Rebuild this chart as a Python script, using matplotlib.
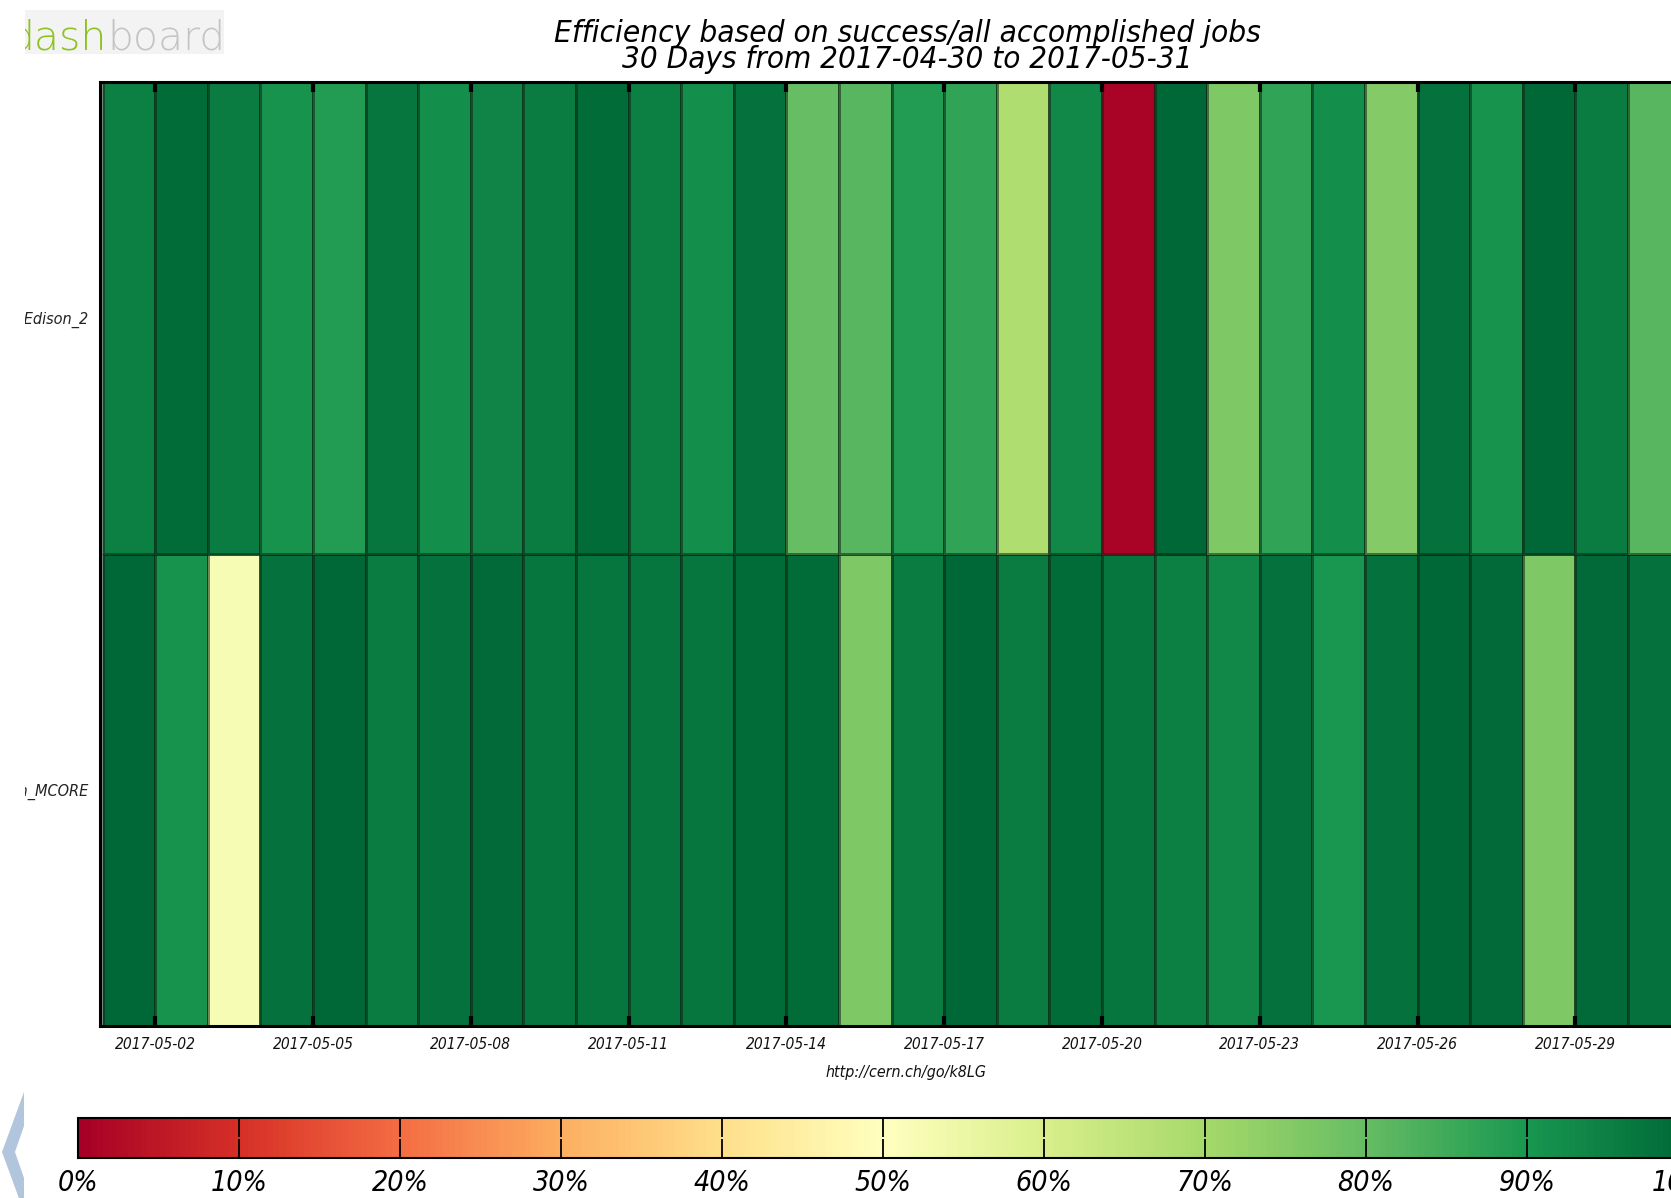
import datetime as dt
import numpy as np
import matplotlib
matplotlib.use("Agg")
import matplotlib.pyplot as plt
import matplotlib.dates as mdates
from matplotlib.patches import Polygon, Rectangle
from matplotlib.text import Annotation

# ---------------- data ----------------
days = ['2017-05-%02d' % d for d in range(1, 31)]
sites = ['NERSC_Edison_MCORE', 'NERSC_Edison_2']          # bottom -> top
eff_edison2 = [95, 99, 96, 91, 89, 97, 92, 94, 96, 99,
               95, 92, 98, 80, 82, 89, 87, 68, 93, 1,
               100, 76, 87, 92, 75, 98, 91, 100, 96, 82]
eff_mcore = [100, 91, 52, 98, 100, 96, 98, 99.5, 97, 97,
             97, 97, 99, 99, 76, 96, 100, 96, 99, 97,
             95, 93, 98, 90, 98, 100, 99.5, 76, 99.5, 98]
xtick_labels = ['2017-05-02', '2017-05-05', '2017-05-08', '2017-05-11',
                '2017-05-14', '2017-05-17', '2017-05-20', '2017-05-23',
                '2017-05-26', '2017-05-29']
cbar_ticks = [0, 10, 20, 30, 40, 50, 60, 70, 80, 90, 100]
title_1 = 'Efficiency based on success/all accomplished jobs'
title_2 = '30 Days from 2017-04-30 to 2017-05-31'
url = 'http://cern.ch/go/k8LG'

# ---------------- layout helpers ----------------
W, H = 1671, 1198
plt.rcParams['font.family'] = ['DejaVu Sans']
plt.rcParams['font.stretch'] = 'condensed'
fig = plt.figure(figsize=(W / 100, H / 100), dpi=100)


def px(l, t, r, b):
    return [l / W, 1 - b / H, (r - l) / W, (b - t) / H]


def dnum(s):
    return mdates.date2num(dt.datetime.strptime(s, '%Y-%m-%d'))


# ---------------- main heatmap ----------------
ax = fig.add_axes(px(100, 82, 1714, 1026))
xs = [dnum(d) for d in days]
edges = xs + [xs[-1] + 1]
Z = np.array([eff_mcore, eff_edison2])
mesh = ax.pcolormesh(edges, [0, 1, 2], Z, cmap='RdYlGn', vmin=0, vmax=100,
                     edgecolors=(0.05, 0.15, 0.08, 0.55), linewidth=0.75)
ax.set_xlim(xs[0] - 0.05, xs[0] - 0.05 + 1614 / 52.6)
ax.set_ylim(0, 2)
ax.set_yticks([0.5, 1.5])
ax.set_yticklabels(sites, fontsize=11.6, style='italic', color='#222222')
ax.tick_params(axis='y', length=0, pad=8)
ax.set_xticks([dnum(t) for t in xtick_labels])
ax.set_xticklabels(xtick_labels, fontsize=11.2, style='italic', color='#111111')
ax.tick_params(axis='x', direction='in', length=7, width=3, top=True,
               bottom=True, pad=8)
for sp in ax.spines.values():
    sp.set_linewidth(2.2)

# ---------------- titles ----------------
fig.text(907 / W, 1 - 34 / H, title_1, ha='center', va='center',
         fontsize=22.6, style='italic')
fig.text(907 / W, 1 - 59 / H, title_2, ha='center', va='center',
         fontsize=22.4, style='italic')
fig.text(906 / W, 1 - 1073 / H, url, ha='center', va='center',
         fontsize=11.4, style='italic', color='#111111')

# ---------------- colorbar ----------------
cax = fig.add_axes(px(78, 1118, 1688, 1158))
cb = fig.colorbar(mesh, cax=cax, orientation='horizontal', ticks=cbar_ticks)
cb.set_ticklabels(['%d%%' % t for t in cbar_ticks])
cax.tick_params(direction='in', length=14, width=1.3, top=True, bottom=True,
                labelsize=20.5, pad=8)
for lbl in cax.get_xticklabels():
    lbl.set_style('italic')
cb.outline.set_linewidth(1.5)

# ---------------- page decorations ----------------
fig.patches.append(Rectangle((0, 0), 25 / W, 1, transform=fig.transFigure,
                             facecolor='white', edgecolor='none', zorder=5))
fig.patches.append(Rectangle((25 / W, 1 - 54 / H), 199 / W, 44 / H,
                             transform=fig.transFigure, facecolor='#f3f3f3',
                             edgecolor='none', zorder=4))
t_dash = fig.text(9 / W, 1 - 50 / H, 'dash', fontsize=29.5, color='#8dc21f',
                  va='baseline', ha='left', zorder=4.5, fontweight='light',
                  fontstretch='normal')
fig.add_artist(Annotation('board', xy=(1, 0), xycoords=t_dash,
                          va='bottom', ha='left', fontsize=29.5,
                          color='#c4c4c4', fontweight='light',
                          fontstretch='normal', zorder=4.5))
chev = [(24, 1092), (2, 1152), (24, 1212), (24, 1178), (15, 1152),
        (24, 1126)]
fig.patches.append(Polygon([(x / W, 1 - y / H) for x, y in chev],
                           closed=True, transform=fig.transFigure,
                           facecolor='#b1c6dc', edgecolor='none', zorder=6))

fig.savefig('out.png', dpi=100)
